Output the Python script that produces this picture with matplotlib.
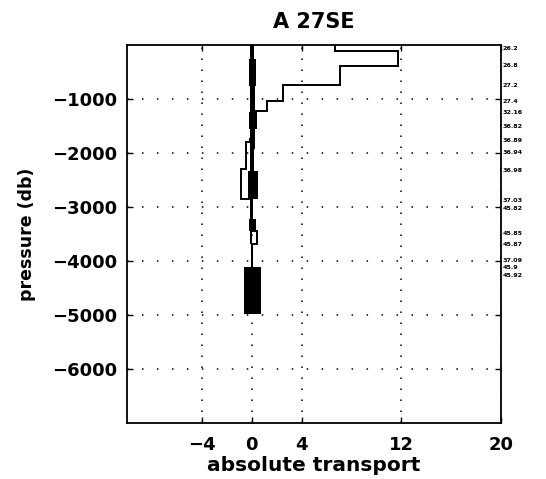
import matplotlib
matplotlib.use('Agg')
import matplotlib.pyplot as plt

plt.rcParams['font.family'] = ['DejaVu Sans']

# ---- data ----
stair_edges = [0, -105, -395, -735, -1031, -1215, -1600]
stair_x = [6.7, 11.7, 7.1, 2.5, 1.2, 0.2]

outline_edges = [0, -1740, -1800, -2300, -2850, -3440, -3690, -4990]
outline_x = [0.08, -0.1, -0.45, -0.85, 0.0, 0.45, 0.05]

band_edges = [0, -260, -750, -1235, -1555, -1925, -2330, -2850, -3220, -3440, -3690, -4117, -4990]
band_lo = [-0.1, -0.25, -0.1, -0.2, -0.15, -0.1, -0.3, -0.15, -0.25, -0.15, -0.03, -0.6]
band_hi = [0.2, 0.35, 0.25, 0.45, 0.25, 0.2, 0.5, 0.1, 0.34, 0.05, 0.12, 0.74]

density_p = [-74, -374, -741, -1050, -1259, -1512, -1765, -2000, -2315,
             -2875, -3025, -3488, -3698, -3985, -4125, -4265]
density_labels = ['26.2', '26.8', '27.2', '27.4', '32.16', '36.82', '36.89', '36.94',
                  '36.98', '37.03', '45.82', '45.85', '45.87', '37.09', '45.9', '45.92']

xticks = [-4, 0, 4, 12, 20]
xtick_labels = ['\u22124', '0', '4', '12', '20']
yticks = [-1000, -2000, -3000, -4000, -5000, -6000]
ytick_labels = ['\u22121000', '\u22122000', '\u22123000', '\u22124000', '\u22125000', '\u22126000']

title = 'A 27SE'
xlabel = 'absolute transport'
ylabel = 'pressure (db)'

# ---- figure ----
fig = plt.figure(figsize=(5.46, 4.79), dpi=100)
ax = fig.add_axes([127/546, 1 - 423/479, (501 - 127)/546, (423 - 45)/479])
ax.set_xlim(-10, 20)
ax.set_ylim(-7000, 0)

# grid (dotted, MATLAB style)
for xv in xticks:
    ax.axvline(xv, color='black', lw=1.1, ls=(0, (1, 6.2)), zorder=1)
for yv in yticks:
    ax.axhline(yv, color='black', lw=1.1, ls=(0, (1, 8.8)), zorder=1)

ax.stairs(band_hi[::-1], band_edges[::-1], baseline=band_lo[::-1], fill=True,
          orientation='horizontal', color='black', lw=0, zorder=3)
ax.stairs(outline_x[::-1], outline_edges[::-1], baseline=None,
          orientation='horizontal', color='black', lw=1.4, zorder=4)
ax.stairs(stair_x[::-1], stair_edges[::-1], baseline=None,
          orientation='horizontal', color='black', lw=1.4, zorder=4)

for p, lab in zip(density_p, density_labels):
    ax.text(1.004, p, lab, transform=ax.get_yaxis_transform(), fontsize=4.6,
            fontweight='bold', va='center', ha='left', clip_on=False)

ax.set_xticks(xticks)
ax.set_xticklabels(xtick_labels, fontweight='bold')
ax.set_yticks(yticks)
ax.set_yticklabels(ytick_labels, fontweight='bold')
ax.tick_params(direction='in', length=4, width=1.0, top=True, right=True,
               labelsize=13)
ax.tick_params(axis='x', pad=9)
ax.tick_params(axis='y', pad=7)
for s in ax.spines.values():
    s.set_linewidth(1.3)

ax.set_title(title, fontsize=15, pad=12, fontweight='bold')
ax.set_xlabel(xlabel, fontsize=14.5, fontweight='bold')
ax.set_ylabel(ylabel, fontsize=12.5, fontweight='bold')
ax.xaxis.set_label_coords(0.5, -0.088)
ax.yaxis.set_label_coords(-0.244, 0.5)

fig.savefig('out.png', dpi=100)
